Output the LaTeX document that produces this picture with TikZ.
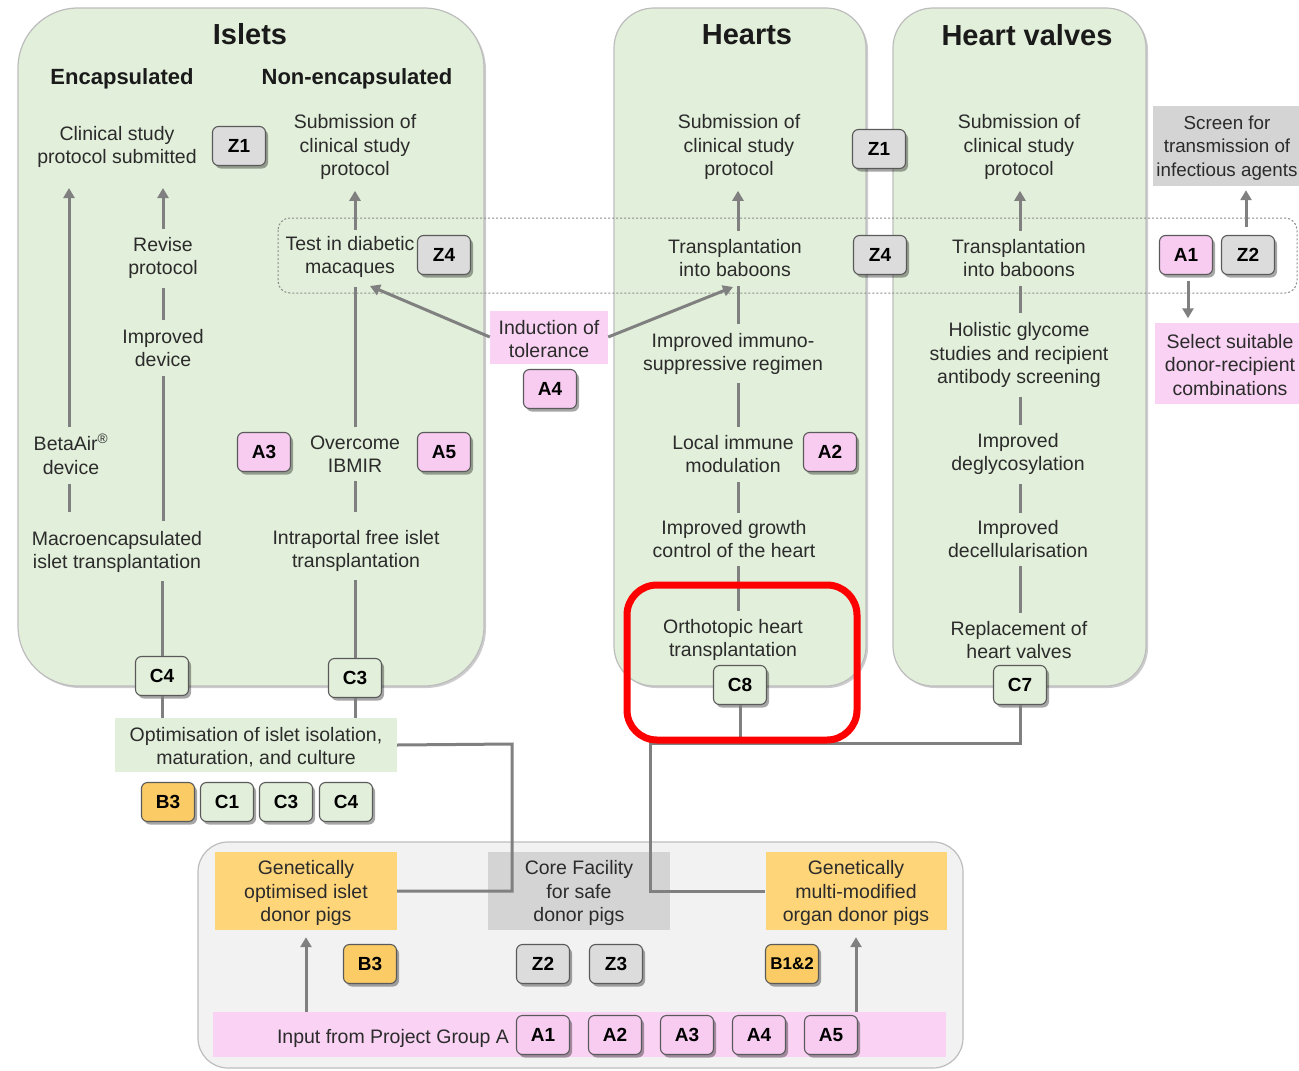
\documentclass[tikz,border=0pt]{standalone}
\usepackage{fontspec}
\setmainfont{Liberation Sans}
\usetikzlibrary{shadows,arrows.meta,calc}
\definecolor{pgreen}{HTML}{E2EFDA}
\definecolor{pbord}{HTML}{BDBDBD}
\definecolor{pinkf}{HTML}{FAD3F4}
\definecolor{pbad}{HTML}{F8CBF1}
\definecolor{orangef}{HTML}{FFD57A}
\definecolor{obad}{HTML}{FBCB66}
\definecolor{grayf}{HTML}{D4D4D4}
\definecolor{gbad}{HTML}{DCDCDC}
\definecolor{lnc}{HTML}{808080}
\definecolor{botf}{HTML}{F2F2F2}
\definecolor{bdr}{HTML}{5A5A5A}
\definecolor{txtc}{HTML}{2B2B2B}
\definecolor{ttlc}{HTML}{1A1A1A}
\definecolor{dotc}{HTML}{8C8C8C}
\begin{document}
\begin{tikzpicture}[x=1pt,y=-1pt,
  txt/.style={align=center, inner sep=0pt, font=\fontsize{19.5}{23.5}\selectfont, text=txtc, yshift=-2pt},
  ttl/.style={font=\bfseries\fontsize{29}{32}\selectfont, text=ttlc, inner sep=0pt},
  subttl/.style={font=\bfseries\fontsize{22}{26}\selectfont, text=ttlc, inner sep=0pt, yshift=-2pt},
  badge/.style={draw=bdr, line width=1.1pt, rounded corners=6pt, minimum width=53pt, minimum height=39pt, inner sep=0pt, font=\bfseries\fontsize{19}{20}\selectfont, text=black, drop shadow={shadow xshift=2.5pt, shadow yshift=-3pt, opacity=0.35, fill=black}},
  zb/.style={badge, fill=gbad},
  ab/.style={badge, fill=pbad},
  cb/.style={badge, fill=pgreen},
  bb/.style={badge, fill=obad},
  fillbox/.style={inner sep=0pt},
  ln/.style={draw=lnc, line width=3pt},
  ar/.style={ln, -{Triangle[length=10pt,width=11pt]}},
  panel/.style={fill=pgreen, draw=pbord, line width=1.2pt, drop shadow={shadow xshift=2pt, shadow yshift=-2pt, opacity=0.2, fill=black}},
]
\useasboundingbox (0,0) rectangle (1299,1071);
\clip (0,0) rectangle (1299,1071);
\fill[white] (0,0) rectangle (1299,1071);

% panels
\draw[panel, rounded corners=60pt] (18,8) rectangle (484,686);
\draw[panel, rounded corners=40pt] (614,8) rectangle (866,686);
\draw[panel, rounded corners=40pt] (893,8) rectangle (1146,686);
\draw[fill=botf, draw=pbord, line width=1.2pt, rounded corners=30pt] (198,842) rectangle (963,1068);

% dotted band
\draw[dotc, line width=1pt, dash pattern=on 2pt off 2pt, rounded corners=12pt] (278,218) rectangle (1297,293);

% titles
\node[ttl] (tis) at (250,34) {Islets};
\node[ttl] (the) at (747,35) {Hearts};
\node[ttl] (thv) at (1027,35) {Heart valves};
\node[subttl] (tenc) at (122,77) {Encapsulated};
\node[subttl] (tnon) at (357,77) {Non-encapsulated};

% Islets texts
\node[txt] (cs) at (117,145) {Clinical study\\protocol submitted};
\node[zb] (z1a) at (239,146) {Z1};
\node[txt] (sub1) at (355,145) {Submission of\\clinical study\\protocol};
\node[txt] (rev) at (163,256) {Revise\\protocol};
\node[txt] (impd) at (163,346) {Improved\\device};
\node[txt] (beta) at (71,452) {BetaAir\textsuperscript{®}\\device};
\node[txt] (macro) at (117,550) {Macroencapsulated\\islet transplantation};
\node[txt] (test) at (350,255) {Test in diabetic\\macaques};
\node[zb] (z4a) at (444,255) {Z4};
\node[txt] (ibmir) at (355,452) {Overcome\\IBMIR};
\node[ab] (a3) at (264,452) {A3};
\node[ab] (a5) at (444,452) {A5};
\node[txt] (intra) at (356,549) {Intraportal free islet\\transplantation};

% Islets connectors
\draw[ar, shorten <=8pt, shorten >=20pt] (rev.north) -- (rev.north |- cs.south);
\draw[ln, shorten <=9pt, shorten >=9pt] (rev.south) -- (impd.north);
\draw[ln, shorten <=9pt, shorten >=10pt] (impd.south) -- (impd.south |- macro.north);
\draw[ar, shorten <=6pt, shorten >=20pt] ([xshift=-2pt]beta.north) -- ([xshift=-2pt]beta.north |- cs.south);
\draw[ln, shorten <=19pt, shorten >=9pt] ([xshift=-2pt]beta.south |- macro.north) -- ([xshift=-2pt]beta.south);
\draw[ar, shorten <=6pt, shorten >=11pt] (ibmir.north |- test.north) -- (ibmir.north |- sub1.south);
\draw[ln, shorten <=8pt, shorten >=9pt] (ibmir.north) -- (ibmir.north |- test.south);
\draw[ln, shorten <=18pt, shorten >=8pt] (ibmir.south |- intra.north) -- (ibmir.south);

% Hearts texts
\node[txt] (sub2) at (739,145) {Submission of\\clinical study\\protocol};
\node[zb] (z1b) at (879,149) {Z1};
\node[txt] (tb2) at (735,256) {Transplantation\\into baboons};
\node[zb] (z4b) at (880,255) {Z4};
\node[txt] (imm) at (733,352) {Improved immuno-\\suppressive regimen};
\node[txt] (loc) at (733,452) {Local immune\\modulation};
\node[ab] (a2) at (830,452) {A2};
\node[txt] (grow) at (734,537) {Improved growth\\control of the heart};
\node[txt] (orth) at (733,638) {Orthotopic heart\\transplantation};
\coordinate (hx) at (738,0);
\draw[ar, shorten <=8pt, shorten >=11pt] (hx |- tb2.north) -- (hx |- sub2.south);
\draw[ln, shorten <=9pt, shorten >=9pt] (hx |- tb2.south) -- (hx |- imm.north);
\draw[ln, shorten <=8pt, shorten >=8pt] (hx |- imm.south) -- (hx |- loc.north);
\draw[ln, shorten <=9pt, shorten >=7pt] (hx |- loc.south) -- (hx |- grow.north);
\draw[ln, shorten <=8pt, shorten >=8pt] (hx |- grow.south) -- (hx |- orth.north);

% Heart valves texts
\node[txt] (sub3) at (1019,145) {Submission of\\clinical study\\protocol};
\node[txt] (tb3) at (1019,256) {Transplantation\\into baboons};
\node[txt] (hol) at (1019,353) {Holistic glycome\\studies and recipient\\antibody screening};
\node[txt] (degl) at (1018,452) {Improved\\deglycosylation};
\node[txt] (decel) at (1018,537) {Improved\\decellularisation};
\node[txt] (repl) at (1019,638) {Replacement of\\heart valves};
\coordinate (vx) at (1020,0);
\draw[ar, shorten <=8pt, shorten >=11pt] (vx |- tb3.north) -- (vx |- sub3.south);
\draw[ln, shorten <=9pt, shorten >=9pt] (vx |- tb3.south) -- (vx |- hol.north);
\draw[ln, shorten <=9pt, shorten >=8pt] (vx |- hol.south) -- (vx |- degl.north);
\draw[ln, shorten <=9pt, shorten >=7pt] (vx |- degl.south) -- (vx |- decel.north);
\draw[ln, shorten <=8pt, shorten >=8pt] (vx |- decel.south) -- (vx |- repl.north);

% right side
\node[fillbox, fill=grayf, minimum width=152pt, minimum height=80pt] (screen) at (1229,146) {};
\node[txt, font=\fontsize{18.8}{23.5}\selectfont] (screent) at (1227,146) {Screen for\\transmission of\\infectious agents};
\node[fillbox, fill=pinkf, minimum width=150pt, minimum height=81pt] (select) at (1230,363) {};
\node[txt] (selectt) at (select) {Select suitable\\donor-recipient\\combinations};
\node[ab] (a1) at (1186,255) {A1};
\node[zb] (z2) at (1248,255) {Z2};
\draw[ar, shorten <=8pt, shorten >=4pt] ([xshift=-2pt]z2.north) -- ([xshift=-2pt]z2.north |- screen.south);
\draw[ar, shorten <=6pt, shorten >=4pt] ([xshift=2pt]a1.south) -- ([xshift=2pt]a1.south |- select.north);

% induction
\node[fillbox, fill=pinkf, minimum width=118pt, minimum height=53pt] (ind) at (549,337) {};
\node[txt] (indt) at (ind) {Induction of\\tolerance};
\node[ab] (a4) at (550,389) {A4};
\coordinate (testin) at (370,286);
\coordinate (tbin) at (733,287);
\draw[ar] (ind.west) -- (testin);
\draw[ar] (ind.east) -- (tbin);

% bottom of panels
\node[cb] (c4) at (162,676) {C4};
\node[cb] (c3) at (355,678) {C3};
\node[cb] (c8) at (740,685) {C8};
\node[cb] (c7) at (1020,685) {C7};
\draw[ln, shorten <=8pt] (c4.north |- macro.south) -- (c4.north);
\draw[ln, shorten <=8pt] (c3.north |- intra.south) -- (c3.north);

\node[fillbox, fill=pgreen, minimum width=282pt, minimum height=54pt] (opt) at (256,745) {};
\node[txt] (optt) at (opt) {Optimisation of islet isolation,\\maturation, and culture};
\draw[ln] (c4.south) -- (c4.south |- opt.north);
\draw[ln] (c3.south) -- (c3.south |- opt.north);
\node[bb] (b3a) at (168,802) {B3};
\node[cb] (c1b) at (227,802) {C1};
\node[cb] (c3b) at (286,802) {C3};
\node[cb] (c4b) at (346,802) {C4};

% bottom panel contents
\node[fillbox, fill=orangef, minimum width=182pt, minimum height=78pt] (gop) at (306,891) {};
\node[txt] (gopt) at (gop) {Genetically\\optimised islet\\donor pigs};
\node[fillbox, fill=grayf, minimum width=182pt, minimum height=78pt] (core) at (579,891) {};
\node[txt] (coret) at (core) {Core Facility\\for safe\\donor pigs};
\node[fillbox, fill=orangef, minimum width=181pt, minimum height=78pt] (gmm) at (856,891) {};
\node[txt] (gmmt) at (gmm) {Genetically\\multi-modified\\organ donor pigs};
\coordinate (jl) at (512,744);
\coordinate (jr) at (650,743);
\draw[ln] (opt.east) -- (jl) |- (gop.east);
\draw[ln] (c8.south) |- (jr) |- (gmm.west);
\draw[ln] (c7.south) |- (jr);

\node[bb] (b3b) at (370,964) {B3};
\node[zb] (z2b) at (543,964) {Z2};
\node[zb] (z3) at (616,964) {Z3};
\node[bb, font=\bfseries\fontsize{17}{20}\selectfont] (b12) at (792,964) {B1\&2};

\node[fillbox, fill=pinkf, minimum width=733pt, minimum height=45pt] (strip) at (579.5,1034.5) {};
\node[txt] (inp) at (393,1036) {Input from Project Group A};
\node[ab] (a1b) at (543,1035) {A1};
\node[ab] (a2b) at (615,1035) {A2};
\node[ab] (a3b) at (687,1035) {A3};
\node[ab] (a4b) at (759,1035) {A4};
\node[ab] (a5b) at (831,1035) {A5};
\draw[ar, shorten >=7pt] (strip.north -| gop.south) -- (gop.south);
\draw[ar, shorten >=7pt] (strip.north -| gmm.south) -- (gmm.south);

% red highlight
\draw[red, line width=7pt, rounded corners=30pt] (627,585) rectangle (857,740);
\end{tikzpicture}
\end{document}
